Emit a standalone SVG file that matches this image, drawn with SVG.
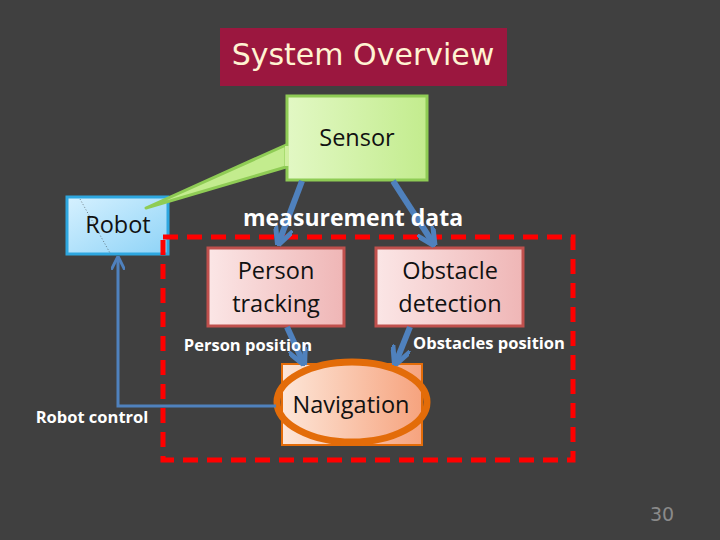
<svg xmlns="http://www.w3.org/2000/svg" width="720" height="540" viewBox="0 0 720 540">
<defs>
<linearGradient id="gGreen" x1="0" y1="0" x2="1" y2="0"><stop offset="0" stop-color="#e2f8c4"/><stop offset="1" stop-color="#c3ec8e"/></linearGradient>
<linearGradient id="gBlue" x1="0" y1="0" x2="1" y2="1"><stop offset="0" stop-color="#d6f1ff"/><stop offset="1" stop-color="#8ed3f7"/></linearGradient>
<linearGradient id="gPink" x1="0" y1="0" x2="1" y2="0"><stop offset="0" stop-color="#fbe6e6"/><stop offset="1" stop-color="#efb6b6"/></linearGradient>
<linearGradient id="gNav" x1="0" y1="0" x2="1" y2="0"><stop offset="0" stop-color="#fde6d8"/><stop offset="1" stop-color="#f6a37e"/></linearGradient>
<marker id="ah" viewBox="0 0 10 10" refX="8" refY="5" markerWidth="3.2" markerHeight="3.2" orient="auto"><path d="M0,0 L10,5 L0,10" fill="none" stroke="#4f81bd" stroke-width="2.6"/></marker>
<marker id="ah2" viewBox="0 0 10 10" refX="8" refY="5" markerWidth="4.5" markerHeight="4.5" orient="auto"><path d="M0,0 L10,5 L0,10" fill="none" stroke="#4f81bd" stroke-width="2.2"/></marker>
</defs>
<style>
.lbl{font-family:"Open Sans","Liberation Sans",sans-serif;font-size:23.5px;fill:#111;text-anchor:middle}
.wb{font-family:"Open Sans","Liberation Sans",sans-serif;font-weight:bold;fill:#fff}
.conn{stroke:#4f81bd;fill:none}
</style>
<rect width="720" height="540" fill="#404040"/>
<g id="title">
<rect x="220" y="28" width="287" height="58" fill="#9b173f"/>
<text x="363" y="65" font-family="DejaVu Sans, sans-serif" font-size="30" fill="#fff3d2" text-anchor="middle">System Overview</text>
</g>
<g id="robot">
<rect x="67" y="197" width="101" height="57" fill="url(#gBlue)" stroke="#2ea7e0" stroke-width="3"/>
<line x1="80" y1="199" x2="110" y2="253" stroke="#333" stroke-width="0.6" stroke-dasharray="1,2"/>
<text class="lbl" x="118" y="233">Robot</text>
</g>
<g id="sensor">
<path d="M286,145 L146,208 L286,167 Z" fill="#c3ec8e" stroke="#8fcc55" stroke-width="3" stroke-linejoin="round"/>
<rect x="287" y="96" width="140" height="84" fill="url(#gGreen)" stroke="#8fcc55" stroke-width="3"/>
<rect x="285" y="146" width="4" height="20" fill="#cfef9f"/>
<text class="lbl" x="357" y="146">Sensor</text>
</g>
<g id="boundary">
<rect x="163" y="237" width="410" height="223" fill="none" stroke="#ff0000" stroke-width="5" stroke-dasharray="15,9"/>
</g>
<g id="person">
<rect x="208" y="248" width="136" height="78" fill="url(#gPink)" stroke="#c0504d" stroke-width="3"/>
<text class="lbl" x="276" y="279">Person</text>
<text class="lbl" x="276" y="312">tracking</text>
</g>
<g id="obstacle">
<rect x="376" y="248" width="147" height="78" fill="url(#gPink)" stroke="#c0504d" stroke-width="3"/>
<text class="lbl" x="450" y="279">Obstacle</text>
<text class="lbl" x="450" y="312">detection</text>
</g>
<g id="navigation">
<rect x="282" y="364" width="140" height="81" fill="url(#gNav)" stroke="#e36c09" stroke-width="2"/>
<ellipse cx="352" cy="402" rx="75" ry="40" fill="none" stroke="#e36c09" stroke-width="7"/>
<text class="lbl" x="351" y="413">Navigation</text>
</g>
<g id="connectors">
<line class="conn" x1="302" y1="181" x2="279" y2="242" stroke-width="6" marker-end="url(#ah)"/>
<line class="conn" x1="393" y1="181" x2="433" y2="243" stroke-width="6" marker-end="url(#ah)"/>
<line class="conn" x1="287" y1="327" x2="303" y2="362" stroke-width="6" marker-end="url(#ah)"/>
<line class="conn" x1="410" y1="327" x2="396" y2="362" stroke-width="6" marker-end="url(#ah)"/>
<path class="conn" d="M276,406 L118,406 L118,259" stroke-width="3" marker-end="url(#ah2)"/>
</g>
<g id="labels">
<text class="wb" x="353" y="226" font-size="23" text-anchor="middle">measurement data</text>
<text class="wb" x="248" y="351" font-size="16.5" text-anchor="middle">Person position</text>
<text class="wb" x="489" y="349" font-size="16.5" text-anchor="middle">Obstacles position</text>
<text class="wb" x="92" y="423" font-size="16.5" text-anchor="middle">Robot control</text>
</g>
<text x="662" y="521" font-family="DejaVu Sans, sans-serif" font-size="19" fill="#8a8a8a" text-anchor="middle">30</text>
</svg>
